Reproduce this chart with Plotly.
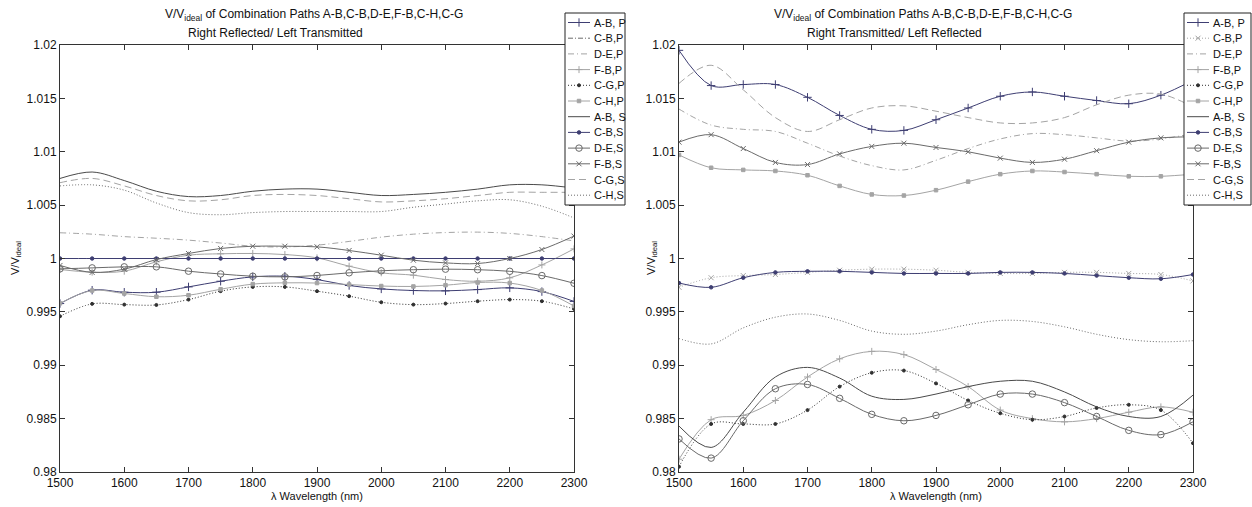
import plotly.graph_objects as go

W, H = 1252, 507

# Wavelength samples (nm)
wavelength = [1500, 1550, 1600, 1650, 1700, 1750, 1800, 1850, 1900,
              1950, 2000, 2050, 2100, 2150, 2200, 2250, 2300]

# ---- Right Reflected / Left Transmitted ----
L_AB_P = [0.99578, 0.99703, 0.99684, 0.99684, 0.99734, 0.99787, 0.99828, 0.99834, 0.99803,
          0.99747, 0.99715, 0.99700, 0.99697, 0.99709, 0.99725, 0.99690, 0.99598]
L_CB_P = [1.0000, 1.0000, 1.0000, 1.0000, 1.0000, 1.0000, 1.0000, 1.0000, 1.0000,
          1.0000, 1.0000, 1.0000, 1.0000, 1.0000, 1.0000, 1.0000, 1.0000]
L_DE_P = [1.00241, 1.00228, 1.00205, 1.00190, 1.00172, 1.00145, 1.00115, 1.00108, 1.00125,
          1.00160, 1.00200, 1.00228, 1.00243, 1.00247, 1.00235, 1.00205, 1.00165]
L_FB_P = [0.99897, 0.99872, 0.99881, 0.99969, 1.00031, 1.00044, 1.00047, 1.00037, 1.00006,
          0.99928, 0.99866, 0.99844, 0.99803, 0.99787, 0.99819, 0.99940, 1.00090]
L_CG_P = [0.99459, 0.99575, 0.99568, 0.99565, 0.99615, 0.99694, 0.99734, 0.99734, 0.99694,
          0.99647, 0.99590, 0.99568, 0.99578, 0.99600, 0.99615, 0.99600, 0.99528]
L_CH_P = [0.99580, 0.99700, 0.99672, 0.99642, 0.99656, 0.99712, 0.99760, 0.99772, 0.99770,
          0.99756, 0.99742, 0.99738, 0.99750, 0.99775, 0.99770, 0.99700, 0.99555]
L_AB_S = [1.0075, 1.0081, 1.0073, 1.0063, 1.0058, 1.0059, 1.0063, 1.0065, 1.0065,
          1.0062, 1.0059, 1.0060, 1.0062, 1.0065, 1.0069, 1.0069, 1.0066]
L_CB_S = [1.0000, 1.0000, 1.0000, 1.0000, 1.0000, 1.0000, 1.0000, 1.0000, 1.0000,
          1.0000, 1.0000, 1.0000, 1.0000, 1.0000, 1.0000, 1.0000, 1.0000]
L_DE_S = [0.99903, 0.99912, 0.99922, 0.99922, 0.99881, 0.99855, 0.99834, 0.99828, 0.99841,
          0.99866, 0.99885, 0.99895, 0.99900, 0.99895, 0.99880, 0.99840, 0.99768]
L_FB_S = [0.99935, 0.99870, 0.99900, 0.99990, 1.00047, 1.00094, 1.00115, 1.00115, 1.00109,
          1.00075, 1.00031, 0.99984, 0.99959, 0.99953, 1.00000, 1.00084, 1.00210]
L_CG_S = [1.0071, 1.0075, 1.0068, 1.0059, 1.0054, 1.0055, 1.0059, 1.0060, 1.0059,
          1.0056, 1.0053, 1.0054, 1.0056, 1.0059, 1.0062, 1.0062, 1.0062]
L_CH_S = [1.0068, 1.0069, 1.0064, 1.0052, 1.0043, 1.0041, 1.0043, 1.0044, 1.0044,
          1.0044, 1.0044, 1.0048, 1.0051, 1.0054, 1.0055, 1.0049, 1.0038]

# ---- Right Transmitted / Left Reflected ----
R_AB_P = [1.0195, 1.0162, 1.0163, 1.0163, 1.0151, 1.0134, 1.0121, 1.0120, 1.0130,
          1.0141, 1.0152, 1.0156, 1.0152, 1.0148, 1.0145, 1.0153, 1.0167]
R_CB_P = [0.9973, 0.9982, 0.9984, 0.9985, 0.9987, 0.9989, 0.9990, 0.9990, 0.9989,
          0.9987, 0.9986, 0.9986, 0.9987, 0.9987, 0.9986, 0.9985, 0.9979]
R_DE_P = [1.0140, 1.0125, 1.0121, 1.0119, 1.0108, 1.0096, 1.0087, 1.0083, 1.0092,
          1.0103, 1.0112, 1.0117, 1.0116, 1.0113, 1.0110, 1.0112, 1.0117]
R_FB_P = [0.9812, 0.9849, 0.9853, 0.9867, 0.9889, 0.9906, 0.9913, 0.9910, 0.9896,
          0.9880, 0.9858, 0.9850, 0.9847, 0.9850, 0.9856, 0.9861, 0.9856]
R_CG_P = [0.9805, 0.9845, 0.9845, 0.9845, 0.9858, 0.9880, 0.9893, 0.9895, 0.9883,
          0.9867, 0.9855, 0.9849, 0.9852, 0.9860, 0.9863, 0.9858, 0.9827]
R_CH_P = [1.0097, 1.0085, 1.0083, 1.0082, 1.0078, 1.0068, 1.0060, 1.0059, 1.0064,
          1.0072, 1.0079, 1.0082, 1.0081, 1.0079, 1.0077, 1.0077, 1.0079]
R_AB_S = [0.9843, 0.9823, 0.9856, 0.9889, 0.9898, 0.9888, 0.9871, 0.9868, 0.9873,
          0.9880, 0.9885, 0.9885, 0.9875, 0.9861, 0.9852, 0.9852, 0.9872]
R_CB_S = [0.9977, 0.9973, 0.9982, 0.9987, 0.9988, 0.9988, 0.9987, 0.9986, 0.9986,
          0.9986, 0.9987, 0.9987, 0.9986, 0.9984, 0.9982, 0.9981, 0.9985]
R_DE_S = [0.9831, 0.9813, 0.9848, 0.9878, 0.9882, 0.9869, 0.9854, 0.9848, 0.9853,
          0.9863, 0.9873, 0.9873, 0.9865, 0.9852, 0.9839, 0.9835, 0.9847]
R_FB_S = [1.0109, 1.0116, 1.0103, 1.0090, 1.0088, 1.0098, 1.0105, 1.0108, 1.0104,
          1.0100, 1.0094, 1.0090, 1.0093, 1.0101, 1.0109, 1.0113, 1.0114]
R_CG_S = [1.0164, 1.0181, 1.0158, 1.0132, 1.0119, 1.0130, 1.0141, 1.0143, 1.0138,
          1.0132, 1.0127, 1.0127, 1.0132, 1.0144, 1.0153, 1.0154, 1.0142]
R_CH_S = [0.9925, 0.9920, 0.9935, 0.9945, 0.9948, 0.9942, 0.9932, 0.9929, 0.9932,
          0.9938, 0.9942, 0.9941, 0.9936, 0.9929, 0.9924, 0.9922, 0.9923]

series_names = ["A-B, P", "C-B,P", "D-E,P", "F-B,P", "C-G,P", "C-H,P",
                "A-B, S", "C-B,S", "D-E,S", "F-B,S", "C-G,S", "C-H,S"]
left_series = [L_AB_P, L_CB_P, L_DE_P, L_FB_P, L_CG_P, L_CH_P,
               L_AB_S, L_CB_S, L_DE_S, L_FB_S, L_CG_S, L_CH_S]
right_series = [R_AB_P, R_CB_P, R_DE_P, R_FB_P, R_CG_P, R_CH_P,
                R_AB_S, R_CB_S, R_DE_S, R_FB_S, R_CG_S, R_CH_S]

y_ticks = [0.98, 0.985, 0.99, 0.995, 1.0, 1.005, 1.01, 1.015, 1.02]
y_ticktext = ["0.98", "0.985", "0.99", "0.995", "1", "1.005", "1.01", "1.015", "1.02"]
x_ticks = [1500, 1600, 1700, 1800, 1900, 2000, 2100, 2200, 2300]

NAVY = "#3e3e72"
DARK = "#4a4a4a"
MIDG = "#6a6a6a"
LIGHT = "#a4a4a4"
DOT = "1px,2px"
DASHDOT = "6px,3px,1px,3px"
DASH = "7px,4px"


# line colour, dash pattern, marker symbol, marker size
def style(name, panel):
    s = {
        "A-B, P": (NAVY, "solid", "cross-thin-open", 6),
        "C-B,P": (MIDG, "5px,2px,1px,2px", None, 0) if panel == "L" else (LIGHT, DOT, "x-thin-open", 5),
        "D-E,P": (LIGHT, DASHDOT, None, 0),
        "F-B,P": (LIGHT, "solid", "cross-thin-open", 5),
        "C-G,P": ("#303030", DOT, "circle", 3),
        "C-H,P": (LIGHT, "solid", "square", 3.5),
        "A-B, S": (DARK, "solid", None, 0),
        "C-B,S": (NAVY, "solid", "circle", 3.5),
        "D-E,S": (MIDG, "solid", "circle-open", 6.5),
        "F-B,S": (MIDG, "solid", "x-thin-open", 5),
        "C-G,S": (LIGHT, DASH, None, 0),
        "C-H,S": (MIDG, DOT, None, 0),
    }
    return s[name]


fig = go.Figure()


def add_panel(series, xa, ya, panel):
    for name, vals in zip(series_names, series):
        col, dash, sym, size = style(name, panel)
        marker = dict(symbol=sym, size=size, color=col, line=dict(color=col, width=1)) if sym else None
        fig.add_trace(go.Scatter(
            x=wavelength, y=vals, xaxis=xa, yaxis=ya, name=name, showlegend=False,
            mode="lines+markers" if sym else "lines",
            line=dict(color=col, width=1, dash=dash, shape="spline", smoothing=1.0),
            marker=marker,
        ))


add_panel(left_series, "x", "y", "L")
add_panel(right_series, "x2", "y2", "R")


# Legend boxes drawn on a full-page overlay axis measured in pixels
def add_legend(x0, x1, y0, y1, panel):
    fig.add_trace(go.Scatter(
        x=[x0, x1, x1, x0, x0], y=[y0, y0, y1, y1, y0], xaxis="x3", yaxis="y3",
        mode="lines", fill="toself", fillcolor="white",
        line=dict(color="#222", width=1), showlegend=False, hoverinfo="skip"))
    for i, name in enumerate(series_names):
        col, dash, sym, size = style(name, panel)
        yy = y0 + 9.5 + 15.7 * i
        sx0, sx1 = x0 + 3, x0 + 25
        fig.add_trace(go.Scatter(
            x=[sx0, sx1], y=[yy, yy], xaxis="x3", yaxis="y3", mode="lines",
            line=dict(color=col, width=1, dash=dash), showlegend=False, hoverinfo="skip"))
        if sym:
            fig.add_trace(go.Scatter(
                x=[(sx0 + sx1) / 2], y=[yy], xaxis="x3", yaxis="y3", mode="markers",
                marker=dict(symbol=sym, size=size, color=col, line=dict(color=col, width=1)),
                showlegend=False, hoverinfo="skip"))
        fig.add_annotation(x=sx1 + 2, y=yy, xref="x3", yref="y3", text=name,
                           showarrow=False, xanchor="left", yanchor="middle",
                           font=dict(size=11, color="#111"))


add_legend(565, 625, 13, 205, "L")
add_legend(1184, 1251, 13, 205, "R")

axis_common = dict(showline=True, linecolor="#333", linewidth=1, mirror="ticks",
                   ticks="inside", ticklen=5, tickcolor="#333", showgrid=False,
                   zeroline=False, automargin=False, tickfont=dict(size=12, color="#111"))

xl = [60 / W, 574 / W]
xr = [679 / W, 1193 / W]
yd = [(H - 472) / H, (H - 45) / H]

fig.update_layout(
    template="none",
    width=W, height=H, autosize=False,
    margin=dict(l=0, r=0, t=0, b=0, pad=0, autoexpand=False),
    paper_bgcolor="white", plot_bgcolor="rgba(0,0,0,0)",
    font=dict(family="Liberation Sans, Arial, sans-serif", size=12, color="#111"),
    showlegend=False,
    xaxis=dict(domain=xl, range=[1500, 2300], tickvals=x_ticks, anchor="y",
               ticklabelstandoff=0, **axis_common),
    yaxis=dict(domain=yd, range=[0.98, 1.02], tickvals=y_ticks, ticktext=y_ticktext,
               anchor="x", **axis_common),
    xaxis2=dict(domain=xr, range=[1500, 2300], tickvals=x_ticks, anchor="y2",
                ticklabelstandoff=0, **axis_common),
    yaxis2=dict(domain=yd, range=[0.98, 1.02], tickvals=y_ticks, ticktext=y_ticktext,
                anchor="x2", **axis_common),
    xaxis3=dict(domain=[0, 1], range=[0, W], visible=False, anchor="y3",
                fixedrange=True, automargin=False),
    yaxis3=dict(domain=[0, 1], range=[H, 0], visible=False, anchor="x3",
                fixedrange=True, automargin=False),
)

title1 = "V/V<sub>ideal</sub> of Combination Paths A-B,C-B,D-E,F-B,C-H,C-G"
texts = [
    (314, 15, title1, 0, 12),
    (275, 33, "Right Reflected/ Left Transmitted", 0, 12),
    (923, 15, title1, 0, 12),
    (894, 33, "Right Transmitted/ Left Reflected", 0, 12),
    (317, 496, "λ Wavelength (nm)", 0, 11),
    (936, 496, "λ Wavelength (nm)", 0, 11),
    (16, 258, "V/V<sub>ideal</sub>", -90, 11),
    (652, 258, "V/V<sub>ideal</sub>", -90, 11),
]
for x, y, t, ang, fs in texts:
    fig.add_annotation(x=x, y=y, xref="x3", yref="y3", text=t, showarrow=False,
                       xanchor="center", yanchor="middle", textangle=ang,
                       font=dict(size=fs, color="#111"))

# Page without body margin so the figure fills the window exactly
fig.write_html("out.html",
               post_script="document.body.style.margin='0px';document.body.style.padding='0px';")
